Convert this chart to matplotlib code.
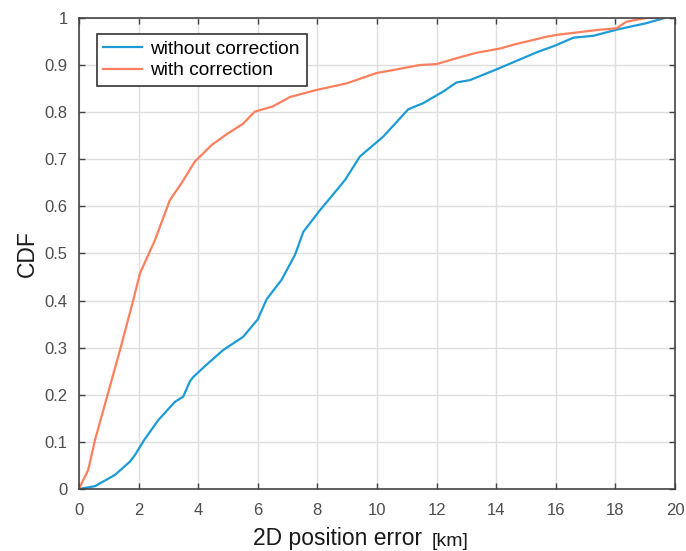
import matplotlib
matplotlib.use("Agg")
import matplotlib.pyplot as plt

plt.rcParams['font.family'] = ['Liberation Sans', 'DejaVu Sans']

# Data (x: km, y: CDF)
x_without = [0, 0.54, 1.21, 1.71, 1.88, 2.2, 2.66, 3.22, 3.5, 3.72, 3.84, 4.25, 4.84, 5.2, 5.51,
             6.0, 6.3, 6.58, 6.8, 7.25, 7.53, 8.09, 8.42, 8.93, 9.43, 10.21, 11.05, 11.55,
             12.23, 12.67, 13.12, 14.02, 14.8, 15.4, 15.97, 16.59, 17.26, 18.04, 19.05, 19.66]
y_without = [0, 0.006, 0.03, 0.058, 0.072, 0.105, 0.146, 0.185, 0.196, 0.228, 0.238, 0.262, 0.295,
             0.31, 0.323, 0.36, 0.403, 0.426, 0.444, 0.497, 0.546, 0.592, 0.617, 0.656, 0.706,
             0.748, 0.806, 0.819, 0.844, 0.863, 0.868, 0.891, 0.912, 0.928, 0.941, 0.958, 0.962,
             0.975, 0.989, 1.0]

x_with = [0, 0.31, 0.54, 0.98, 1.38, 1.82, 2.05, 2.55, 3.05, 3.45, 3.89, 4.45, 5.0, 5.5, 5.9,
          6.5, 7.08, 7.97, 8.98, 9.99, 10.6, 11.44, 12.0, 12.7, 13.34, 14.13, 14.57, 15.69,
          16.03, 17.48, 18.04, 18.37, 19.05, 19.6]
y_with = [0, 0.04, 0.104, 0.204, 0.295, 0.40, 0.458, 0.528, 0.613, 0.65, 0.695, 0.73, 0.755,
          0.775, 0.801, 0.812, 0.832, 0.847, 0.861, 0.883, 0.89, 0.90, 0.902, 0.915, 0.926,
          0.935, 0.943, 0.96, 0.964, 0.975, 0.978, 0.992, 1.0, 1.0]

x_ticks = [0, 2, 4, 6, 8, 10, 12, 14, 16, 18, 20]
y_ticks = [0, 0.1, 0.2, 0.3, 0.4, 0.5, 0.6, 0.7, 0.8, 0.9, 1]
y_ticklabels = ['0', '0.1', '0.2', '0.3', '0.4', '0.5', '0.6', '0.7', '0.8', '0.9', '1']

fig = plt.figure(figsize=(6.86, 5.51), dpi=100)
ax = fig.add_axes([0.115, 0.1125, 0.869, 0.855])

blue = '#1d9bd7'
orange = '#fd7f5d'
ax.plot(x_without, y_without, color=blue, lw=1.6, label='without correction')
ax.plot(x_with, y_with, color=orange, lw=1.6, label='with correction')

ax.set_xlim(0, 20)
ax.set_ylim(0, 1)
ax.set_xticks(x_ticks)
ax.set_xticklabels([str(t) for t in x_ticks])
ax.set_yticks(y_ticks)
ax.set_yticklabels(y_ticklabels)
ax.grid(True, color='#dedede', lw=1.0)
ax.set_axisbelow(True)
ax.tick_params(direction='in', top=True, right=True, length=4, width=1,
               colors='#444444', labelcolor='#4d4d4d', labelsize=12)
ax.tick_params(axis='x', pad=10)
ax.tick_params(axis='y', pad=8)
for s in ax.spines.values():
    s.set_color('#444444')
    s.set_linewidth(1.2)

ax.set_ylabel('CDF', fontsize=16.5, color='#1a1a1a', labelpad=4.5)
fig.text(253 / 686, 5.5 / 551, '2D position error', fontsize=16.5, color='#1a1a1a',
         ha='left', va='baseline')
fig.text(432 / 686, 5.5 / 551, '[km]', fontsize=14, color='#1a1a1a',
         ha='left', va='baseline')

leg = ax.legend(loc='upper left', bbox_to_anchor=(0.03, 0.966), fontsize=13.8,
                fancybox=False, edgecolor='#333333', framealpha=1,
                handlelength=2.0, borderpad=0.35, labelspacing=0.2, handletextpad=0.45,
                borderaxespad=0)
leg.get_frame().set_linewidth(1.2)

fig.savefig('out.png', dpi=100)
